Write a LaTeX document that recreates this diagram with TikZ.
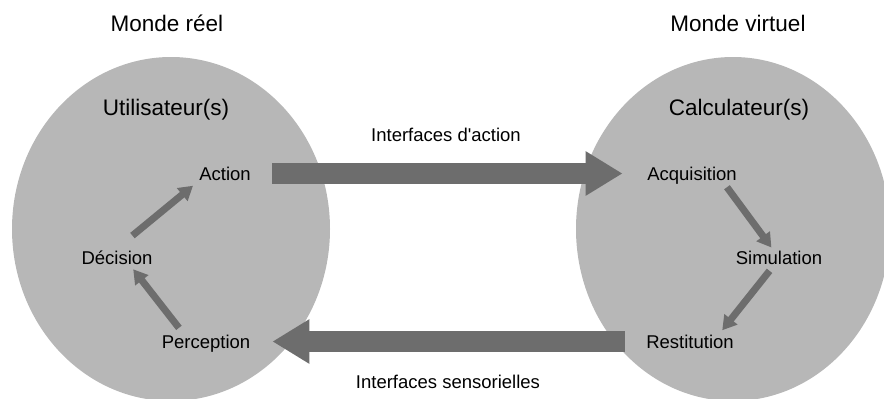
\documentclass[tikz,border=0pt]{standalone}
\usepackage{fontspec}
\setmainfont{Liberation Sans}
\usetikzlibrary{arrows.meta}
\definecolor{mondegris}{HTML}{B7B7B7}
\definecolor{flechegris}{HTML}{6D6D6D}
\begin{document}
\begin{tikzpicture}[x=1pt, y=-1pt,
    titre/.style={font=\fontsize{22.5}{27}\selectfont, anchor=base, inner sep=0pt},
    etape/.style={font=\fontsize{18.5}{22}\selectfont, anchor=base, inner sep=3pt, text height=13pt, text depth=0pt},
    grandefleche/.style={draw=flechegris, line width=21pt, -{Triangle[length=37pt, width=42pt]}},
    petitefleche/.style={draw=flechegris, line width=7pt, -{Triangle[length=14pt, width=16pt]}}]
    % Fix the frame of the picture
    \useasboundingbox (0,0) rectangle (884,399);
    % Draw the two worlds as grey discs
    \fill[mondegris] (171,229) ellipse [x radius=159, y radius=172];
    \fill[mondegris] (733,229) ellipse [x radius=157, y radius=172];
    % Titles above and inside the discs
    \node[titre] (reel) at (167,31.7) {Monde réel};
    \node[titre] (virtuel) at (738,31.7) {Monde virtuel};
    \node[titre] (utilisateurs) at (166,115) {Utilisateur(s)};
    \node[titre] (calculateurs) at (739,115) {Calculateur(s)};
    % Steps of the user
    \node[etape] (action) at (225,180) {Action};
    \node[etape] (decision) at (117,264.5) {Décision};
    \node[etape] (perception) at (206,348) {Perception};
    % Steps of the computer
    \node[etape] (acquisition) at (692,180) {Acquisition};
    \node[etape] (simulation) at (779,264.5) {Simulation};
    \node[etape] (restitution) at (690,348) {Restitution};
    % Labels of the interfaces
    \node[etape] (intaction) at (446,141.7) {Interfaces d\textquotesingle action};
    \node[etape] (intsens) at (448,388) {Interfaces sensorielles};
    % Wide arrows between the two worlds
    \draw[grandefleche, shorten <=18.5pt, shorten >=21.5pt] (action.east) -- (acquisition.west);
    \draw[grandefleche, shorten <=18.5pt, shorten >=19pt] (restitution.west) -- (perception.east);
    % Small arrows of the cycle on the left
    \draw[petitefleche, shorten <=5pt, shorten >=2pt] ([xshift=-24pt]perception.north) -- ([xshift=15pt]decision.south);
    \draw[petitefleche, shorten <=20pt, shorten >=4pt] (decision.north) -- (action.south west);
    % Small arrows of the cycle on the right
    \draw[petitefleche, shorten <=5pt, shorten >=1pt] ([xshift=32pt]acquisition.south) -- ([xshift=-7pt]simulation.north);
    \draw[petitefleche, shorten <=4pt, shorten >=2pt] ([xshift=-7pt]simulation.south) -- ([xshift=31pt]restitution.north);
\end{tikzpicture}
\end{document}
